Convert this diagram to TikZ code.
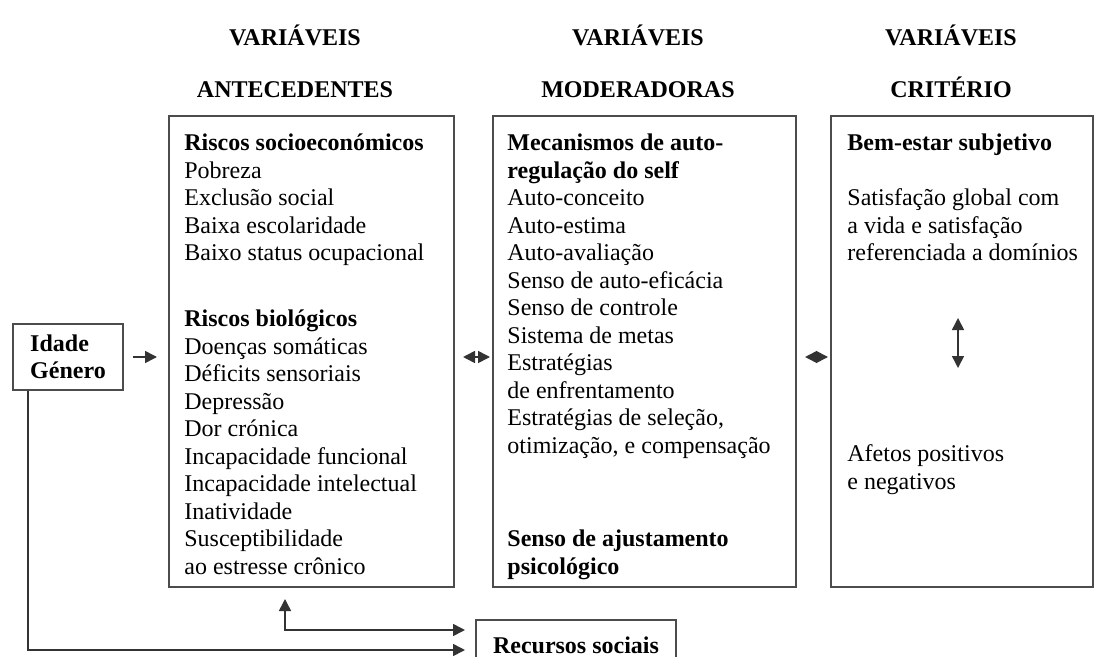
\documentclass[tikz,border=0pt]{standalone}
\usepackage{fontspec}
\setmainfont{Liberation Serif}
\usetikzlibrary{arrows.meta}

\begin{document}
\begin{tikzpicture}[x=0.5pt, y=-0.5pt, font=\fontsize{12}{13.75}\selectfont,
	panel/.style={draw=black!70, line width=1pt, inner sep=0pt, anchor=north west, minimum height=235.5pt},
	body/.style={anchor=north west, align=left, inner sep=0pt},
	head/.style={align=center, inner sep=0pt, font=\fontsize{12}{26}\selectfont\bfseries},
	smallbox/.style={draw=black!70, line width=1pt, inner sep=0pt, font=\fontsize{12}{13.75}\selectfont\bfseries},
	arr/.style={black!80, line width=0.8pt, -{Triangle[length=6pt, width=6pt]}},
	dbl/.style={black!80, line width=0.8pt, {Triangle[length=6pt, width=6pt]}-{Triangle[length=6pt, width=6pt]}}]
	\useasboundingbox (0,0) rectangle (1095,657);
	\clip (0,0) rectangle (1095,657);

	% column titles
	\node[head] (hant) at (295,61) {VARIÁVEIS\\ANTECEDENTES};
	\node[head] (hmod) at (638,61) {VARIÁVEIS\\MODERADORAS};
	\node[head] (hcrit) at (951,61) {VARIÁVEIS\\CRITÉRIO};

	% the three columns
	\node[panel, minimum width=142.5pt] (ant) at (168,115) {};
	\node[panel, minimum width=151.5pt] (mod) at (492,115) {};
	\node[panel, minimum width=131pt] (crit) at (830,115) {};

	\node[body] (tant) at (184,131) {\strut\textbf{Riscos socioeconómicos}\\Pobreza\\Exclusão social\\Baixa escolaridade\\Baixo status ocupacional\\[19.25pt]
		\textbf{Riscos biológicos}\\Doenças somáticas\\Déficits sensoriais\\Depressão\\Dor crónica\\Incapacidade funcional\\Incapacidade intelectual\\Inatividade\\Susceptibilidade\\ao estresse crônico};
	\node[body] (tmod) at (507,131) {\strut\textbf{Mecanismos de auto-}\\\textbf{regulação do self}\\Auto-conceito\\Auto-estima\\Auto-avaliação\\Senso de auto-eficácia\\Senso de controle\\Sistema de metas\\Estratégias\\de enfrentamento\\Estratégias de seleção,\\otimização, e compensação\\[33pt]
		\textbf{Senso de ajustamento}\\\textbf{psicológico}};
	\node[body] (tcrit) at (847,131) {\strut\textbf{Bem-estar subjetivo}\\[13.75pt]Satisfação global com\\a vida e satisfação\\referenciada a domínios\\[86.75pt]
		Afetos positivos\\e negativos};

	\node[smallbox, align=left, minimum width=55pt, minimum height=33pt] (idade) at (68,357) {Idade\\Género};
	\node[smallbox, minimum width=100pt, minimum height=25pt] (recursos) at (576,645) {Recursos sociais};

	\coordinate (bwtop) at (958,318);
	\coordinate (bwbot) at (958,368);

	\draw[arr, shorten <=4.5pt, shorten >=5.5pt] (idade.east) -- (idade.east -| ant.west);
	\draw[dbl, shorten <=4pt, shorten >=1pt] (ant.east |- idade) -- (mod.west |- idade);
	\draw[dbl, shorten <=4pt, shorten >=1pt] (mod.east |- idade) -- (crit.west |- idade);
	\draw[dbl] (bwtop) -- (bwbot);

	\draw[dbl, shorten <=5.5pt, shorten >=5pt] ([xshift=-13.25pt]ant.south) |- ([yshift=7.5pt]recursos.west);
	\draw[arr, shorten >=5pt] ([xshift=-20pt]idade.south) |- ([yshift=-2.5pt]recursos.west);
\end{tikzpicture}
\end{document}
